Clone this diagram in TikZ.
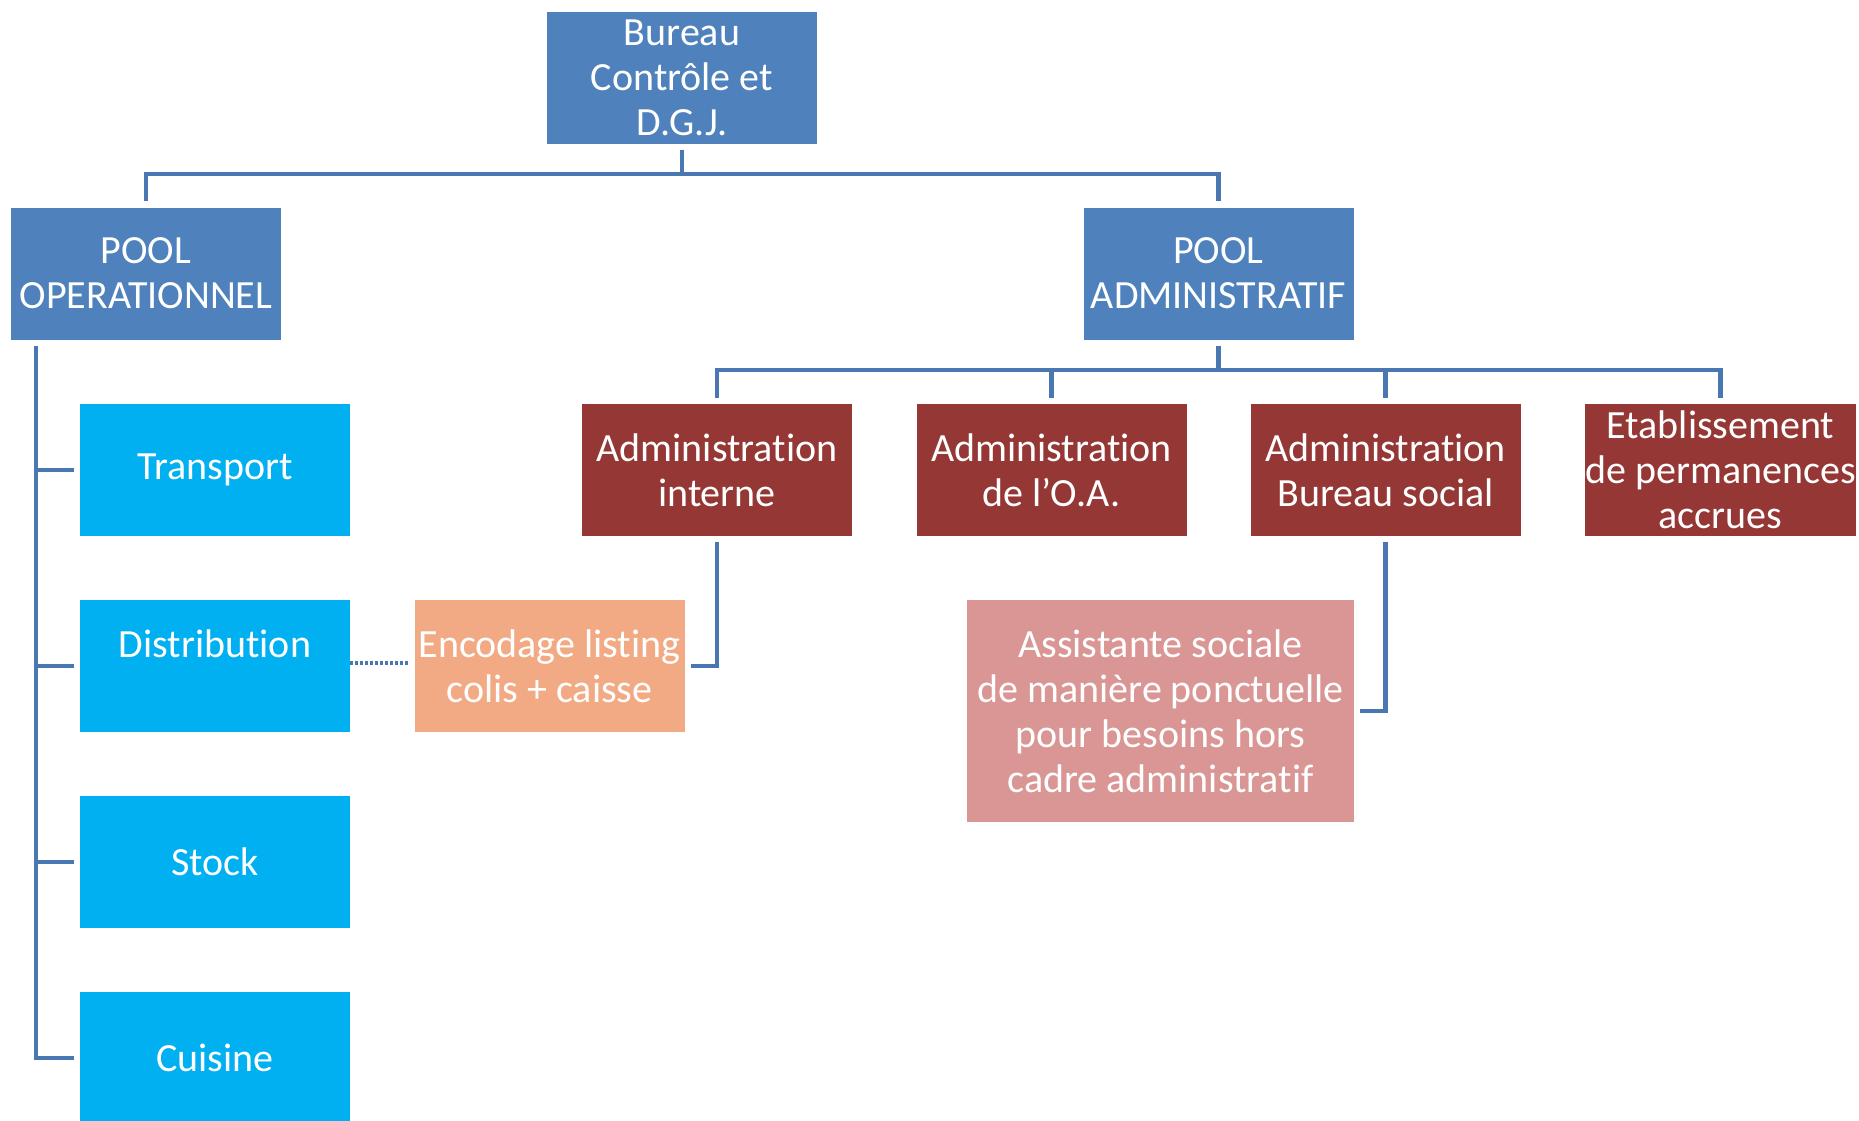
\documentclass[tikz,border=0pt]{standalone}
\usepackage{fontspec}
\setmainfont{Carlito}[Ligatures=NoCommon, Contextuals=NoAlternate]
\definecolor{boxblue}{HTML}{4F81BD}
\definecolor{boxcyan}{HTML}{00B0F0}
\definecolor{boxred}{HTML}{953735}
\definecolor{boxorange}{HTML}{F2AA84}
\definecolor{boxpink}{HTML}{D99694}
\definecolor{linkblue}{HTML}{4A76B2}
\tikzset{
  unit/.style={rectangle, inner sep=0pt, text=white, align=center,
    font=\fontsize{40}{45}\selectfont, minimum width=270pt, minimum height=132pt},
  headbox/.style={unit, fill=boxblue},
  opbox/.style={unit, fill=boxcyan},
  admbox/.style={unit, fill=boxred},
  encbox/.style={unit, fill=boxorange},
  asbox/.style={unit, fill=boxpink, minimum width=387pt, minimum height=222pt},
  link/.style={draw=linkblue, line width=4.8pt, line join=miter},
  dotlink/.style={draw=linkblue, line width=4.8pt, dash pattern=on 3pt off 2pt}
}
\begin{document}
\begin{tikzpicture}[x=1pt,y=-1pt]
\useasboundingbox (0,0) rectangle (1859,1120);
\begin{scope}
\clip (0,0) rectangle (1859,1120);
% nodes
\node[headbox] (bureau) at (682,77.5) {Bureau\\Contrôle et\\D.G.J.};
\node[headbox] (poolop) at (146,273.5) {POOL\\OPERATIONNEL};
\node[headbox] (pooladm) at (1218.5,273.5) {POOL\\ADMINISTRATIF};
\node[opbox] (transport) at (215,470) {Transport};
\node[opbox] (distribution) at (215,666) {Distribution\\\mbox{}};
\node[opbox] (stock) at (215,862) {Stock};
\node[opbox] (cuisine) at (215,1058) {Cuisine};
\node[admbox] (admint) at (717,470) {Administration\\interne};
\node[admbox] (adminoa) at (1051.5,470) {Administration\\de l’O.A.};
\node[admbox] (adminbs) at (1385.5,470) {Administration\\Bureau social};
\node[admbox] (etab) at (1720.5,470) {Etablissement\\de permanences\\accrues};
\node[encbox] (encodage) at (549.5,666) {Encodage listing\\colis + caisse};
\node[asbox] (assist) at (1160.5,711) {Assistante sociale\\de manière ponctuelle\\pour besoins hors\\cadre administratif};
% bus coordinates
\coordinate (bus1) at (682,174);
\coordinate (bus2) at (1218.5,370);
\coordinate (lv) at (36,346);
% top level
\draw[link] ([yshift=-6pt]bureau.south) -- (bureau.south |- bus1);
\draw[link] ([yshift=6pt]poolop.north) -- (poolop.north |- bus1) -- (pooladm.north |- bus1) -- ([yshift=6pt]pooladm.north);
% admin level
\draw[link] ([yshift=-6pt]pooladm.south) -- (bus2);
\draw[link] ([yshift=6pt]admint.north) -- (admint.north |- bus2) -- (etab.north |- bus2) -- ([yshift=6pt]etab.north);
\draw[link] ([yshift=6pt]adminoa.north) -- (adminoa.north |- bus2);
\draw[link] ([yshift=6pt]adminbs.north) -- (adminbs.north |- bus2);
% operational bracket
\draw[link] (lv) |- ([xshift=-6pt]cuisine.west);
\draw[link] (lv |- transport.west) -- ([xshift=-6pt]transport.west);
\draw[link] (lv |- distribution.west) -- ([xshift=-6pt]distribution.west);
\draw[link] (lv |- stock.west) -- ([xshift=-6pt]stock.west);
% sub links
\draw[link] ([yshift=-6pt]admint.south) |- ([xshift=6pt]encodage.east);
\draw[link] ([yshift=-6pt]adminbs.south) |- ([xshift=6pt]assist.east);
\draw[dotlink] ([yshift=3pt]distribution.east) -- ([xshift=-5pt,yshift=3pt]encodage.west);
\end{scope}
\end{tikzpicture}
\end{document}
